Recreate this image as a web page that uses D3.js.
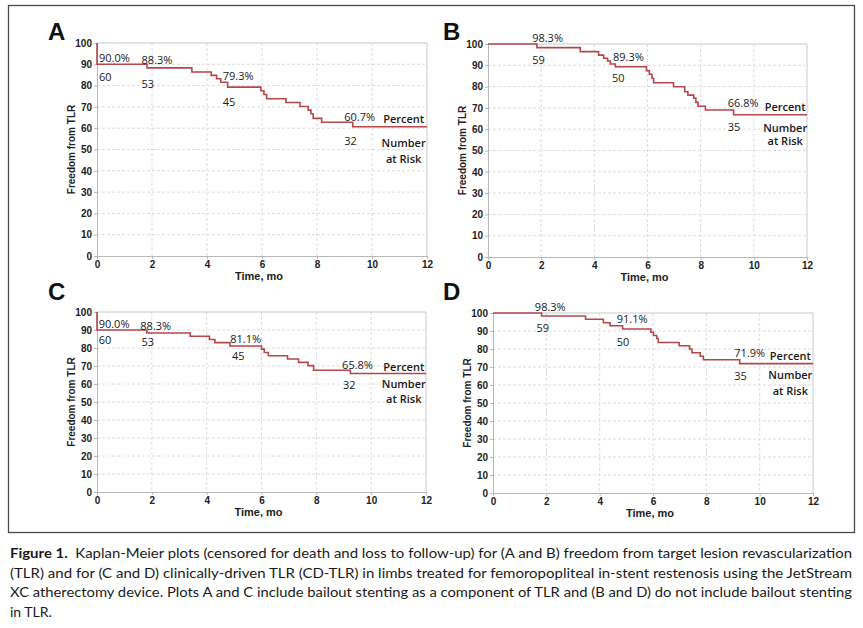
<!DOCTYPE html>
<html>
<head>
<meta charset="utf-8">
<script src="https://cdn.jsdelivr.net/npm/d3@7"></script>
<style>
body { margin: 0; background: #fff; }
</style>
</head>
<body>
<div id="chart"></div>
<script>
// Kaplan-Meier steps: [month, % freedom]
var stepsA = [[0,100],[0,90.0],[1.82,88.3],[3.45,86.4],[4.15,84.8],[4.35,83.2],[4.5,81.6],[4.75,79.3],[5.96,77.6],[6.07,75.8],[6.17,73.8],[6.87,72.1],[7.38,70.2],[7.68,68.5],[7.78,66.8],[7.86,64.6],[8.17,62.8],[9.3,60.7]];
var stepsB = [[0,100],[1.84,98.3],[3.47,96.4],[4.16,94.8],[4.35,93.3],[4.5,92.0],[4.6,90.6],[4.79,89.3],[5.96,87.5],[6.07,85.8],[6.17,83.9],[6.23,81.8],[6.98,79.9],[7.4,77.6],[7.52,76.0],[7.74,74.5],[7.82,72.6],[7.9,70.8],[8.18,69.0],[9.24,66.8]];
var stepsC = [[0,100],[0,90.0],[1.82,88.3],[3.4,86.5],[4.1,84.7],[4.3,83.0],[4.85,81.1],[6.0,79.4],[6.1,77.5],[6.25,75.7],[6.95,73.9],[7.35,72.0],[7.7,70.2],[7.9,67.6],[9.24,65.8]];
var stepsD = [[0,100],[1.82,98.3],[3.47,96.5],[4.14,94.6],[4.39,92.9],[4.86,91.1],[5.92,89.3],[6.02,87.5],[6.14,85.8],[6.2,83.6],[6.98,81.8],[7.37,80.0],[7.46,77.9],[7.77,76.0],[7.89,74.0],[9.25,71.9]];

// percent labels and number at risk: [month, value, text]
var pctA = [[0.07,90.9,"90.0%"],[1.62,90.3,"88.3%"],[4.57,82.4,"79.3%"],[8.99,63.6,"60.7%"]];
var riskA = [[0.07,82.0,"60"],[1.62,78.8,"53"],[4.57,70.2,"45"],[8.99,52.2,"32"]];
var pctB = [[1.66,100.8,"98.3%"],[4.7,92.2,"89.3%"],[9.02,70.2,"66.8%"]];
var riskB = [[1.66,90.6,"59"],[4.66,82.3,"50"],[9.02,59.2,"35"]];
var pctC = [[0.06,91.1,"90.0%"],[1.58,89.8,"88.3%"],[4.86,82.8,"81.1%"],[8.94,68.6,"65.8%"]];
var riskC = [[0.06,82.4,"60"],[1.62,81.0,"53"],[4.92,73.2,"45"],[8.97,57.5,"32"]];
var pctD = [[1.57,101.3,"98.3%"],[4.64,94.6,"91.1%"],[9.05,75.7,"71.9%"]];
var riskD = [[1.63,89.2,"59"],[4.64,81.8,"50"],[9.05,62.7,"35"]];

// key text: [month, value] for "Percent", "Number", "at Risk"
var keyA = [[11.15,62.4],[11.15,51.4],[11.15,43.6]];
var keyB = [[11.18,68.7],[11.18,58.8],[11.18,52.5]];
var keyC = [[11.19,67.1],[11.19,57.9],[11.19,49.7]];
var keyD = [[11.15,73.8],[11.15,63.1],[11.15,54.7]];
var keyText = ["Percent", "Number", "at Risk"];

var xTicks = [0, 2, 4, 6, 8, 10, 12];
var yTicks = [0, 10, 20, 30, 40, 50, 60, 70, 80, 90, 100];

var captionLines = [
  ["Figure 1.", "  Kaplan-Meier plots (censored for death and loss to follow-up) for (A and B) freedom from target lesion revascularization"],
  ["", "(TLR) and for (C and D) clinically-driven TLR (CD-TLR) in limbs treated for femoropopliteal in-stent restenosis using the JetStream"],
  ["", "XC atherectomy device. Plots A and C include bailout stenting as a component of TLR and (B and D) do not include bailout stenting"],
  ["", "in TLR."]
];

var width = 863, height = 628;
var lineColor = "#b4474b";

var svg = d3.select("#chart").append("svg")
    .attr("width", width)
    .attr("height", height);

// outer frame
svg.append("rect")
    .attr("x", 8.5).attr("y", 5.5)
    .attr("width", 846).attr("height", 527)
    .attr("fill", "none")
    .attr("stroke", "#4a4a4a")
    .attr("stroke-width", 1.3);

var panels = [
  { id: "A", steps: stepsA, pct: pctA, risk: riskA, key: keyA, left: 97, right: 427, top: 43, bottom: 256, lx: 48, ly: 40 },
  { id: "B", steps: stepsB, pct: pctB, risk: riskB, key: keyB, left: 488, right: 807, top: 44, bottom: 257, lx: 443, ly: 40 },
  { id: "C", steps: stepsC, pct: pctC, risk: riskC, key: keyC, left: 97, right: 426, top: 312, bottom: 492, lx: 48, ly: 300 },
  { id: "D", steps: stepsD, pct: pctD, risk: riskD, key: keyD, left: 493, right: 813, top: 313, bottom: 493, lx: 443, ly: 300 }
];

panels.forEach(function(p) {
    var x = d3.scaleLinear().domain([0, 12]).range([p.left, p.right]);
    var y = d3.scaleLinear().domain([0, 100]).range([p.bottom, p.top]);
    var g = svg.append("g");

    // dashed grid
    g.selectAll(".gx").data(xTicks.slice(1, -1)).enter().append("line")
        .attr("x1", d => x(d)).attr("x2", d => x(d))
        .attr("y1", p.top).attr("y2", p.bottom)
        .attr("stroke", "#dcdcdc").attr("stroke-dasharray", "3,2");
    g.selectAll(".gy").data(yTicks.slice(1, -1)).enter().append("line")
        .attr("x1", p.left).attr("x2", p.right)
        .attr("y1", d => y(d)).attr("y2", d => y(d))
        .attr("stroke", "#dcdcdc").attr("stroke-dasharray", "3,2");

    // top / right border
    g.append("path")
        .attr("d", "M" + p.left + "," + p.top + "H" + p.right + "V" + p.bottom)
        .attr("fill", "none").attr("stroke", "#c8c8c8");

    // axes
    var xAxis = g.append("g")
        .attr("transform", "translate(0," + p.bottom + ")")
        .call(d3.axisBottom(x).tickValues(xTicks).tickSize(3).tickPadding(2));
    var yAxis = g.append("g")
        .attr("transform", "translate(" + p.left + ",0)")
        .call(d3.axisLeft(y).tickValues(yTicks).tickSize(3).tickPadding(2));
    [xAxis, yAxis].forEach(function(a) {
        a.select(".domain").attr("stroke", "#b8b8b8");
        a.selectAll(".tick line").attr("stroke", "#b8b8b8");
        a.selectAll("text")
            .style("font-family", "Liberation Sans, Arial, sans-serif")
            .style("font-size", "10px")
            .style("font-weight", "bold")
            .attr("fill", "#222");
    });

    // survival curve
    var pts = p.steps.concat([[12, p.steps[p.steps.length - 1][1]]]);
    var line = d3.line()
        .x(d => x(d[0]))
        .y(d => y(d[1]))
        .curve(d3.curveStepAfter);
    g.append("path")
        .datum(pts)
        .attr("d", line)
        .attr("fill", "none")
        .attr("stroke", lineColor)
        .attr("stroke-width", 1.6);

    // percent + number at risk labels
    g.selectAll(".pct").data(p.pct.concat(p.risk)).enter().append("text")
        .attr("x", d => x(d[0]))
        .attr("y", d => y(d[1]))
        .style("font-family", "Open Sans, sans-serif")
        .style("font-size", "11px")
        .attr("fill", "#1a1a1a")
        .text(d => d[2]);

    g.selectAll(".key").data(p.key).enter().append("text")
        .attr("x", d => x(d[0]))
        .attr("y", d => y(d[1]))
        .attr("text-anchor", "middle")
        .style("font-family", "Open Sans, sans-serif")
        .style("font-size", "11px")
        .style("font-weight", "600")
        .attr("fill", "#1a1a1a")
        .text((d, i) => keyText[i]);

    // axis titles
    g.append("text")
        .attr("x", (p.left + p.right) / 2 - 3)
        .attr("y", p.bottom + 24)
        .attr("text-anchor", "middle")
        .style("font-family", "Liberation Sans, Arial, sans-serif")
        .style("font-size", "11px")
        .style("font-weight", "bold")
        .attr("fill", "#222")
        .text("Time, mo");

    g.append("text")
        .attr("transform", "translate(" + (p.left - 22) + "," + ((p.top + p.bottom) / 2) + ") rotate(-90)")
        .attr("text-anchor", "middle")
        .style("font-family", "Liberation Sans, Arial, sans-serif")
        .style("font-size", "10px")
        .style("font-weight", "bold")
        .attr("fill", "#222")
        .text("Freedom from TLR");

    // panel letter
    g.append("text")
        .attr("x", p.lx).attr("y", p.ly)
        .style("font-family", "Liberation Sans, Arial, sans-serif")
        .style("font-size", "24px")
        .style("font-weight", "bold")
        .attr("fill", "#111")
        .text(p.id);
});

// caption
var cap = svg.append("g");
captionLines.forEach(function(l, i) {
    var t = cap.append("text")
        .attr("x", 10)
        .attr("y", 558 + i * 19.7)
        .attr("xml:space", "preserve")
        .style("font-family", "Lato, sans-serif")
        .style("font-size", "14px")
        .attr("fill", "#1a1a1a");
    if (l[0]) t.append("tspan").style("font-weight", "bold").text(l[0]);
    t.append("tspan").text(l[1]);
    if (i < 3) t.attr("textLength", 842).attr("lengthAdjust", "spacingAndGlyphs");
});
</script>
</body>
</html>
